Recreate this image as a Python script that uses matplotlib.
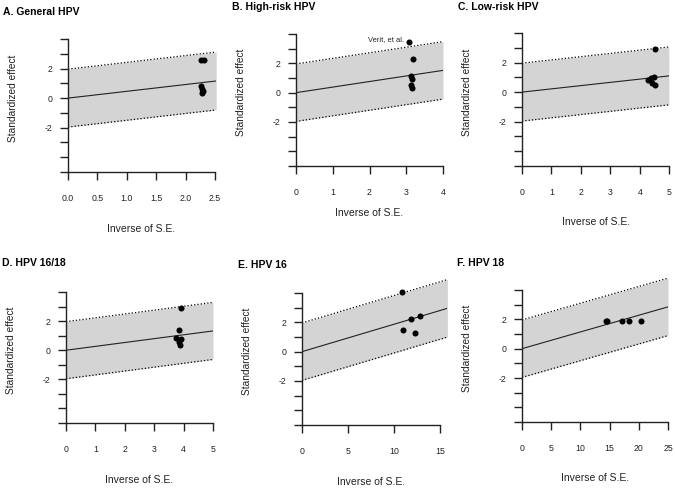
import numpy as np
import matplotlib.pyplot as plt

plt.rcParams['font.family'] = ['Liberation Sans', 'DejaVu Sans']

# Данные для шести графиков Гэлбрейта
titles = ["A. General HPV", "B. High-risk HPV", "C. Low-risk HPV",
          "D. HPV 16/18", "E. HPV 16", "F. HPV 18"]
slopes = [0.46, 0.38, 0.22, 0.265, 0.187, 0.114]
x_max = [2.52, 4.0, 4.98, 5.0, 15.8, 25.0]
x_ticks = [[0.0, 0.5, 1.0, 1.5, 2.0, 2.5], [0, 1, 2, 3, 4], [0, 1, 2, 3, 4, 5],
           [0, 1, 2, 3, 4, 5], [0, 5, 10, 15], [0, 5, 10, 15, 20, 25]]
x_tick_labels = [["0.0", "0.5", "1.0", "1.5", "2.0", "2.5"], ["0", "1", "2", "3", "4"],
                 ["0", "1", "2", "3", "4", "5"], ["0", "1", "2", "3", "4", "5"],
                 ["0", "5", "10", "15"], ["0", "5", "10", "15", "20", "25"]]

a_x = [2.26, 2.31, 2.27, 2.28, 2.29, 2.28]
a_y = [2.60, 2.57, 0.85, 0.65, 0.50, 0.35]
b_x = [3.08, 3.18, 3.12, 3.16, 3.14, 3.16]
b_y = [3.45, 2.28, 1.13, 0.93, 0.52, 0.32]
c_x = [4.50, 4.27, 4.38, 4.47, 4.40, 4.52]
c_y = [2.91, 0.79, 0.95, 1.03, 0.60, 0.45]
d_x = [3.91, 3.83, 3.74, 3.91, 3.85, 3.89]
d_y = [2.90, 1.42, 0.82, 0.75, 0.57, 0.37]
e_x = [10.83, 11.0, 11.88, 12.86, 12.32]
e_y = [4.04, 1.48, 2.24, 2.44, 1.30]
f_x = [14.3, 14.6, 17.05, 18.4, 20.4]
f_y = [1.92, 1.92, 1.92, 1.92, 1.92]
points = [(a_x, a_y), (b_x, b_y), (c_x, c_y), (d_x, d_y), (e_x, e_y), (f_x, f_y)]

# Расположение осей в пикселях: x=0, x последнего деления, низ (-5), верх (4)
W, H = 675, 488
layout = [(68, 215, 172, 39), (296, 443, 166, 34), (522, 670, 166, 33),
          (66, 213, 423, 292), (302, 440, 425, 293), (522, 668, 422, 290)]
title_pos = [(3, 12), (232, 7), (458, 7), (2, 263), (238, 265), (457, 263)]
xlabel_off = [57, 47, 56, 57, 57, 56]

fig = plt.figure(figsize=(6.75, 4.88), dpi=100)

for i in range(6):
    x0, xt, yb, yt = layout[i]
    last = x_ticks[i][-1]
    w_px = (xt - x0) * x_max[i] / last
    h_px = (yb - yt) * 10 / 9
    ax = fig.add_axes([x0 / W, (H - yb) / H, w_px / W, h_px / H])

    xs = np.array([0, x_max[i]])
    b = slopes[i]
    ax.fill_between(xs, -1.96 + b * xs, 1.96 + b * xs, color='#d4d4d4', lw=0)
    ax.plot(xs, 1.96 + b * xs, color='black', ls=':', lw=0.9)
    ax.plot(xs, -1.96 + b * xs, color='black', ls=':', lw=0.9)
    ax.plot(xs, b * xs, color='#222222', lw=0.8)
    px, py = points[i]
    ax.scatter(px, py, s=19, color='black', zorder=3, lw=0)

    ax.set_xlim(0, x_max[i])
    ax.set_ylim(-5, 5)
    ax.set_yticks(range(-5, 5))
    ax.set_yticklabels(["2" if v == 2 else "0" if v == 0 else "-2" if v == -2 else "" for v in range(-5, 5)])
    ax.set_xticks(x_ticks[i])
    ax.set_xticklabels(x_tick_labels[i])
    ax.spines['top'].set_visible(False)
    ax.spines['right'].set_visible(False)
    ax.spines['left'].set_bounds(-5, 4)
    ax.spines['bottom'].set_bounds(0, last)
    for s in ['left', 'bottom']:
        ax.spines[s].set_linewidth(1.0)
        ax.spines[s].set_color('#222222')
    ax.tick_params(axis='x', length=5.5, width=1.0, pad=10, labelsize=6.3, colors='#222222')
    ax.tick_params(axis='y', length=5.5, width=1.0, pad=6, labelsize=6.3, colors='#222222')

    ax.set_ylabel("Standardized effect", fontsize=7.3, color='#222222', va='center')
    ax.yaxis.set_label_coords(-55 / w_px, 0.5)
    ax.set_xlabel("Inverse of S.E.", fontsize=7.5, color='#222222', va='center')
    ax.xaxis.set_label_coords((xt - x0) / 2 / w_px, -xlabel_off[i] / h_px)

    tx, ty = title_pos[i]
    fig.text(tx / W, 1 - ty / H, titles[i], fontsize=7.5, fontweight='bold', va='center', ha='left')

    if i == 1:
        ax.annotate("Verit, et al.", (b_x[0], b_y[0]), xytext=(-4, 2), textcoords='offset points',
                    ha='right', va='center', fontsize=5.4, color='#222222')

fig.savefig("out.png", dpi=100)
